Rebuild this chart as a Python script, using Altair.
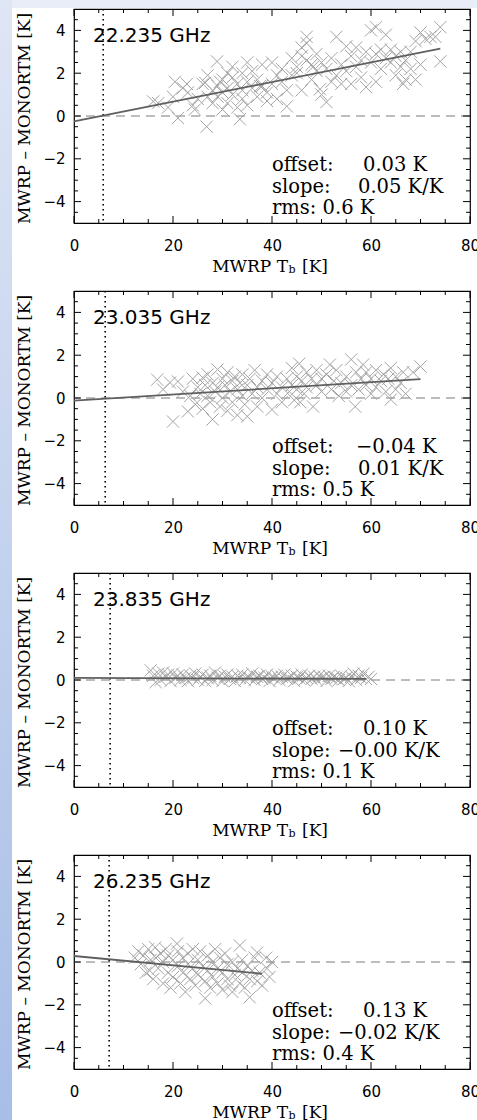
import altair as alt
import pandas as pd

# ---------------- data ----------------
freqs = ["22.235 GHz", "23.035 GHz", "23.835 GHz", "26.235 GHz"]
offsets = ["0.03 K", "\u22120.04 K", "0.10 K", "0.13 K"]
slopes = ["0.05 K/K", "0.01 K/K", "\u22120.00 K/K", "\u22120.02 K/K"]
rms_vals = ["0.6", "0.5", "0.1", "0.4"]
dotted_x = [5.9, 6.3, 7.3, 7.1]
fit_x = [[0, 74], [0, 70], [0, 59], [0, 38]]
fit_y = [[-0.25, 3.15], [-0.12, 0.88], [0.10, 0.05], [0.28, -0.55]]

# (Tb, difference) pairs per channel
p1 = [(16, 0.68), (17, 0.6), (19, 0.4), (20, 0.9), (20.4, 1.6), (21, -0.1), (22, 1.3), (22.8, 1.5),
      (23, 1.1), (24, 0.5), (24.4, 0.3), (25, 0.8), (26, 1.5), (26.5, 1.55), (26.8, -0.5), (27, 1.9),
      (27, 0.9), (28, 1.2), (28, 0.6), (28.9, 2.55), (29, 1.4), (29, 0.9), (29.5, 1.6), (30, 1.7),
      (30, 0.3), (30, 1.1), (31, 2.0), (31, 1.3), (31, 0.6), (32, 1.8), (32, 1.0), (32, 2.3), (33, 0.4),
      (33, 1.5), (33.5, -0.15), (34, 1.2), (34, 2.0), (34, 0.8), (35, 1.6), (35, 2.5), (35, 0.5),
      (36, 1.3), (36, 2.1), (37, 0.9), (37, 1.7), (37.6, 1.4), (38, 1.4), (38, 2.4), (39, 1.1), (39, 0.7),
      (40, 2.5), (40, 1.5), (41, 1.9), (41, 0.8), (42, 1.6), (42, 2.2), (43, 0.45), (43, 1.2), (44, 1.9),
      (44, 2.7), (45, 2.0), (45, 2.3), (46, 2.8), (46, 1.2), (46, 3.2), (47, 3.7), (47, 2.6), (47, 3.4),
      (48, 2.4), (48.3, 2.3), (48, 1.7), (49, 2.1), (49, 2.9), (49.7, 1.25), (50, 2.5), (50, 1.0),
      (51, 0.65), (51, 2.2), (52, 1.6), (52, 2.7), (53, 3.7), (53, 1.9), (54, 2.4), (54, 1.5), (55, 3.25),
      (55, 2.1), (56, 2.8), (56, 1.5), (57, 3.2), (57, 2.3), (58, 1.8), (58, 2.6), (59, 1.35), (59, 3.0),
      (60, 4.0), (60, 2.5), (61, 4.15), (61, 2.9), (61, 1.6), (62, 3.1), (62, 2.2), (63, 2.7), (63, 3.8),
      (64, 2.5), (64, 3.1), (65, 1.9), (65, 2.8), (66, 3.0), (66, 2.3), (66.5, 1.5), (67, 2.6), (67, 1.7),
      (68, 3.0), (68, 2.2), (69, 1.7), (69, 3.5), (70, 3.9), (70, 2.4), (71, 3.6), (72, 3.7), (73, 3.7),
      (74, 4.15), (74, 2.55)]

p2 = [(16.8, 0.86), (18, 0.4), (19.4, 0.72), (20, -1.1), (21, 0.77), (22, 0.3), (23, -0.63), (23.5, 0.1),
      (24, 0.9), (24.5, -0.3), (25, 0.5), (25.5, 0.2), (26, 0.95), (26, -0.5), (26.5, 0.6), (27, 0.1),
      (27, 1.1), (27.5, -0.2), (28, 0.7), (28, -1.0), (28.5, 0.3), (29, 1.33), (29, 0.5), (29.5, -0.4),
      (30, 0.9), (30, 0.0), (30.5, 0.6), (31, 1.2), (31, -0.6), (31.5, 0.3), (32, 0.8), (32, -0.2),
      (32.5, 1.0), (33, 0.4), (33, -0.8), (33.5, 0.7), (34, 0.1), (34, 1.1), (34.5, -0.3), (35, 0.6),
      (35, -0.86), (35.5, 0.9), (36, 0.2), (36.5, 1.3), (37, 0.5), (37, -0.4), (38, 0.8), (38, 0.0),
      (39, 1.1), (39, 0.4), (40, -0.54), (40, 0.7), (41, 0.2), (41, 1.0), (42, 0.5), (42, -0.2), (43, 0.9),
      (43.5, 0.3), (44, 1.4), (44, 0.6), (44.5, -0.1), (45, 1.0), (45, 0.4), (45.5, 1.6), (45.7, -0.2),
      (46, 0.8), (46.5, 0.2), (47, 1.2), (47, 0.5), (48, 0.9), (48.3, -0.4), (49, 0.6), (49, 1.3),
      (50, 0.3), (50, 0.9), (51, 1.1), (51.7, 1.56), (52, 0.4), (52.5, 0.8), (53, 1.3), (53.5, 0.1),
      (54, 0.7), (55, 1.0), (55, 0.3), (56, 1.8), (56, 0.6), (56.8, -0.4), (57, 1.2), (57.5, 0.4),
      (58, 0.9), (58.4, 1.56), (59, 0.6), (59, 1.2), (60, 0.2), (60, 0.9), (61, 1.3), (61, 0.5), (62, 0.8),
      (62.5, 1.1), (63, 0.3), (63.5, 0.9), (64, -0.07), (64, 1.4), (65, 0.4), (65, 1.0), (66, 0.7),
      (66.5, 1.2), (67, 0.2), (68.5, 1.2), (70, 1.47)]

p3 = [(15.5, 0.45), (16, 0.2), (16.5, -0.1), (17, 0.3), (17.5, 0.0), (18, 0.35), (18.5, 0.15), (19, 0.25),
      (19.5, -0.05), (20, 0.3), (20.5, 0.1), (21, 0.2), (21.5, 0.0), (22, 0.25), (22.5, 0.1), (23, -0.05),
      (23.5, 0.2), (24, 0.1), (24.5, 0.3), (25, 0.0), (25.5, 0.15), (26, 0.25), (26.5, -0.05), (27, 0.1),
      (27.5, 0.2), (28, 0.0), (28.5, 0.35), (29, 0.1), (29.5, 0.2), (30, -0.05), (30.5, 0.15), (31, 0.25),
      (31.5, 0.05), (32, 0.15), (32.5, -0.05), (33, 0.2), (33.5, 0.1), (34, 0.25), (34.5, 0.0), (35, 0.15),
      (35.5, 0.1), (36, 0.3), (36.5, 0.0), (37, 0.15), (37.5, 0.2), (38, 0.05), (38.5, 0.1), (39, 0.25),
      (39.5, -0.05), (40, 0.15), (40.5, 0.1), (41, 0.2), (41.5, 0.0), (42, 0.15), (42.5, 0.25), (43, 0.05),
      (43.5, 0.1), (44, 0.2), (44.5, -0.05), (45, 0.15), (45.5, 0.1), (46, 0.25), (46.5, 0.0), (47, 0.1),
      (47.5, 0.2), (48, 0.05), (48.5, 0.15), (49, 0.0), (49.5, 0.2), (50, 0.1), (50.5, 0.15), (51, -0.05),
      (51.5, 0.2), (52, 0.05), (52.5, 0.15), (53, 0.1), (53.5, 0.0), (54, 0.2), (54.5, 0.05), (55, 0.1),
      (55.5, -0.05), (56, 0.15), (56.5, 0.3), (57, 0.0), (57.5, 0.2), (58, 0.1), (58.5, 0.3), (59, 0.05),
      (59.5, 0.15), (60, 0.05)]

p4 = [(12.3, 0.2), (13, 0.5), (13.5, -0.1), (14, 0.3), (14.5, -0.5), (15, 0.6), (15.3, -0.4), (15.5, 0.1),
      (16, -0.8), (16.4, 0.68), (16.5, 0.2), (17, -0.3), (17.5, 0.4), (18, -1.0), (18, 0.0), (18.5, 0.6),
      (19, -0.5), (19, 0.3), (19.5, -1.2), (20, 0.1), (20, -0.7), (20.8, 0.86), (21, -0.2), (21, 0.5),
      (21.5, -1.0), (22, 0.2), (22, -0.5), (22.5, -1.4), (23, 0.4), (23, -0.1), (23.5, -0.8), (24, 0.6),
      (24, -0.3), (24.5, -1.1), (25, 0.1), (25, -0.6), (25.5, 0.5), (26, -0.2), (26.5, -1.7), (26.5, -0.9),
      (27, 0.3), (27, -0.4), (27.5, -1.2), (28, 0.0), (28, -0.7), (28.5, 0.6), (29, -0.3), (29, -1.0),
      (29.5, 0.2), (30, -0.5), (30, -1.3), (30.5, 0.4), (31, -0.1), (31, -0.8), (31.5, -1.1), (32, -1.4),
      (32, 0.0), (32.5, -0.6), (33, -0.3), (33.5, 0.77), (33.5, -1.0), (34, -0.5), (34, 0.1), (34.5, -1.2),
      (35, -0.2), (35.5, -1.65), (35.5, -0.8), (36, -0.4), (36.5, 0.2), (37, 0.44), (37, -0.9), (37.5, -0.5),
      (38, -1.1), (38.8, 0.2), (39, -0.3), (39.5, -0.7), (40, 0.0)]

points = [p1, p2, p3, p4]

x_major = [0, 20, 40, 60, 80]
x_minor = [5, 10, 15, 25, 30, 35, 45, 50, 55, 65, 70, 75]
y_major = [-4, -2, 0, 2, 4]
y_minor = [-4.5, -3.5, -3, -2.5, -1.5, -1, -0.5, 0.5, 1, 1.5, 2.5, 3, 3.5, 4.5]

# ---------------- layout / style ----------------
W, H = 396, 214
GAP = 68
LEFT, TOP = 74, 9
TOTAL_W, TOTAL_H = 477, 1120
SERIF = "DejaVu Serif"
SANS = "DejaVu Sans"
XPATH = "M-1,-1L1,1M-1,1L1,-1"
DUMMY = pd.DataFrame({"d": [0]})
off_x = [289, 282, 289, 289]
slope_x = [284, 284, 264, 264]
STAT = 19.5


def xsc():
    return alt.Scale(domain=[0, 80], nice=False, zero=False)


def ysc():
    return alt.Scale(domain=[-5, 5], nice=False, zero=False)


def xaxis():
    return alt.Axis(values=x_major, ticks=False, domain=False, grid=False, labelFlush=False,
                    labelFont=SANS, labelFontSize=15, labelColor="black", labelPadding=15, title=None)


def yaxis():
    return alt.Axis(values=y_major, ticks=False, domain=False, grid=False, labelFlush=False,
                    labelFont=SANS, labelFontSize=15, labelColor="black", labelPadding=9,
                    title="MWRP \u2013 MONORTM [K]", titleFont=SERIF, titleFontSize=17,
                    titleFontWeight="normal", titleColor="black", titleAngle=270,
                    titleX=-50, titleY=109, titleAlign="center", titleBaseline="middle")


def X(f):
    return alt.X(f, scale=xsc(), axis=xaxis())


def Y(f):
    return alt.Y(f, scale=ysc(), axis=yaxis())


def txt(s, x, y, size, font, align="left"):
    return alt.Chart(DUMMY).mark_text(
        text=s, font=font, fontSize=size, align=align, baseline="alphabetic", color="black"
    ).encode(x=alt.value(x), y=alt.value(y))


def ticks_x(vals, length):
    df = pd.DataFrame({"t": vals})
    top = alt.Chart(df).mark_rule(color="black", strokeWidth=1).encode(
        x=X("t:Q"), y=alt.value(0), y2=alt.value(length))
    bot = alt.Chart(df).mark_rule(color="black", strokeWidth=1).encode(
        x=X("t:Q"), y=alt.value(H), y2=alt.value(H - length))
    return [top, bot]


def ticks_y(vals, length):
    df = pd.DataFrame({"t": vals})
    left = alt.Chart(df).mark_rule(color="black", strokeWidth=1).encode(
        y=Y("t:Q"), x=alt.value(0), x2=alt.value(length))
    right = alt.Chart(df).mark_rule(color="black", strokeWidth=1).encode(
        y=Y("t:Q"), x=alt.value(W), x2=alt.value(W - length))
    return [left, right]


def panel(i):
    layers = []
    if i == 0:
        grad = alt.LinearGradient(
            gradient="linear",
            stops=[alt.GradientStop(color="#dfe6f5", offset=0),
                   alt.GradientStop(color="#a7bee7", offset=1)],
            x1=0, x2=0, y1=0, y2=1)
        layers.append(alt.Chart(DUMMY).mark_rect(color=grad).encode(
            x=alt.value(-LEFT), x2=alt.value(-LEFT + 12), y=alt.value(-TOP), y2=alt.value(TOTAL_H - TOP)))
        layers.append(alt.Chart(DUMMY).mark_rect(color="#e9edf7").encode(
            x=alt.value(-LEFT + 12), x2=alt.value(TOTAL_W - LEFT), y=alt.value(-TOP), y2=alt.value(-1)))

    # zero dashed line
    layers.append(alt.Chart(pd.DataFrame({"v": [0]})).mark_rule(
        color="#7a7a7a", strokeWidth=1, strokeDash=[9, 6]).encode(y=Y("v:Q")))

    pts = pd.DataFrame(points[i], columns=["x", "y"])
    layers.append(alt.Chart(pts).mark_point(
        shape=XPATH, filled=False, color="#a3a3a3", strokeWidth=1, size=150, opacity=1
    ).encode(x=X("x:Q"), y=Y("y:Q")))

    # dotted vertical line
    layers.append(alt.Chart(pd.DataFrame({"v": [dotted_x[i]]})).mark_rule(
        color="black", strokeWidth=1.6, strokeDash=[1.6, 3.4]).encode(x=X("v:Q")))

    # fit line
    fit = pd.DataFrame({"fx": fit_x[i], "fy": fit_y[i]})
    layers.append(alt.Chart(fit).mark_line(color="#5f5f5f", strokeWidth=1.8).encode(
        x=X("fx:Q"), y=Y("fy:Q")))

    layers += ticks_x(x_major, 7) + ticks_x(x_minor, 4) + ticks_y(y_major, 7) + ticks_y(y_minor, 4)

    # texts
    layers.append(txt(freqs[i], 19, 33, 20, SANS))
    layers.append(txt("offset:", 198, 162, STAT, SERIF))
    layers.append(txt(offsets[i], off_x[i], 162, STAT, SERIF))
    layers.append(txt("slope:", 198, 183.5, STAT, SERIF))
    layers.append(txt(slopes[i], slope_x[i], 183.5, STAT, SERIF))
    layers.append(txt("rms: " + rms_vals[i] + " K", 198, 204.5, STAT, SERIF))

    # x title: MWRP T_b [K]
    layers.append(txt("MWRP T", 214, H + 49, 17, SERIF, align="right"))
    layers.append(txt("b", 214.5, H + 50, 11, SERIF))
    layers.append(txt("[K]", 228, H + 49, 17, SERIF))

    return alt.layer(*layers).properties(width=W, height=H)


# With autosize "none" the page is width W + left/right padding and 0 + top/bottom padding,
# so the padding is chosen to make the page exactly 477 x 1120.
chart = alt.vconcat(*[panel(i) for i in range(4)], spacing=GAP, bounds="flush").properties(
    autosize=alt.AutoSizeParams(type="none"),
    padding={"left": LEFT, "top": TOP, "right": TOTAL_W - LEFT - W, "bottom": TOTAL_H - TOP},
    background="white",
).configure_view(stroke="black", strokeWidth=1.2)

chart.save("out.html", embed_options={"renderer": "svg", "actions": False})
